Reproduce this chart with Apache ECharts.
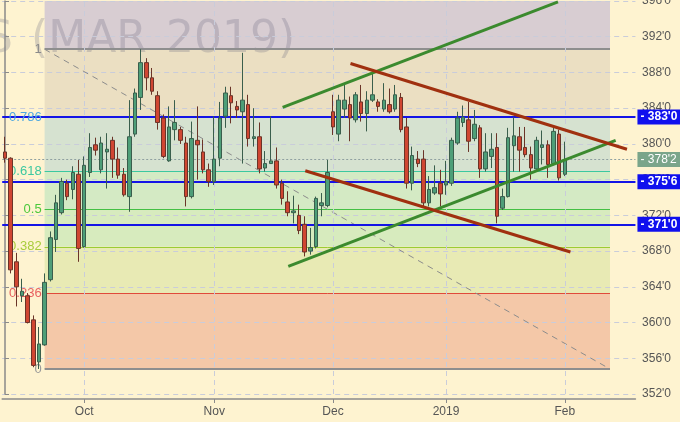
<!DOCTYPE html>
<html><head><meta charset="utf-8">
<script src="https://cdn.jsdelivr.net/npm/echarts@6/dist/echarts.min.js"></script>
<style>html,body{margin:0;padding:0;background:#FEF3D0}#c{width:680px;height:422px}</style>
</head><body><div id="c"></div><script>
// trading days (category axis)
const sepDays=[11,12,13,14,17,18,19,20,21,24,25,26,27,28];
const octDays=[1,2,3,4,5,8,9,10,11,12,15,16,17,18,19,22,23,24,25,26,29,30,31];
const novDays=[1,2,5,6,7,8,9,12,13,14,15,16,19,20,21,23,26,27,28,29,30];
const decDays=[3,4,5,6,7,10,11,12,13,14,17,18,19,20,21,24,26,27,28,31];
const janDays=[2,3,4,7,8,9,10,11,14,15,16,17,18,22,23,24,25,28,29,30,31];
const febDays=[1,4,5,6,7,8,11,12,13,14,15,19,20];
const monthTickDates=['2018-10-01','2018-11-01','2018-12-03','2019-01-02','2019-02-01'];
const monthTickLabels=['Oct','Nov','Dec','2019','Feb'];

// OHLC
const opens=[379.1,378.4,366.8,363.0,363.0,360.3,355.6,357.5,364.8,369.3,372.3,375.6,374.9,376.6,368.5,376.8,379.9,377.1,379.1,380.4,
378.3,376.6,374.1,381.1,385.2,389.1,387.4,385.4,382.9,378.1,381.6,381.6,380.1,374.1,380.4,379.1,377.1,375.8,378.4,383.1,
385.4,384.2,383.6,384.4,380.6,380.8,377.3,377.8,378.1,375.6,373.5,372.3,372.0,371.0,368.0,368.5,373.1,373.1,383.6,381.1,
383.9,384.4,382.7,384.7,383.4,384.9,384.7,383.9,384.4,383.9,385.2,381.9,375.6,378.3,378.3,373.4,374.5,375.6,375.4,375.6,
380.1,382.4,382.7,380.6,381.8,377.2,378.6,379.6,372.8,374.1,379.8,380.8,379.6,378.8,377.2,379.6,379.9,377.8,381.1,376.6];
const closes=[378.4,365.9,364.0,363.5,360.0,355.2,357.6,364.5,369.5,373.4,375.8,374.1,376.8,368.3,377.6,379.6,379.3,380.1,379.4,378.3,
376.5,374.3,380.8,385.7,389.1,387.4,385.9,382.4,378.6,381.9,382.4,380.4,374.1,380.6,379.9,377.1,375.8,378.3,382.9,385.7,
384.6,383.8,384.9,380.6,380.8,377.2,377.8,378.1,375.4,373.9,372.3,372.5,370.3,367.9,368.4,373.9,373.4,376.8,381.9,384.9,
384.9,382.9,385.5,383.4,384.9,385.5,384.2,384.9,383.6,385.5,381.6,375.6,378.7,377.8,373.4,374.9,375.1,374.4,375.8,380.4,
382.9,383.0,380.3,382.2,377.2,379.1,379.4,371.9,374.1,380.7,380.9,379.3,378.8,377.3,380.4,379.9,377.7,381.4,376.2,378.25];
const lows=[377.9,365.5,361.8,362.3,359.9,355.0,354.8,357.4,364.6,367.9,372.1,373.7,373.8,366.8,368.4,376.3,378.7,376.7,375.0,376.2,
376.1,374.1,372.4,380.8,383.8,386.0,385.5,381.6,378.4,378.0,380.4,380.0,373.0,373.9,376.0,376.7,375.2,375.4,377.5,381.8,
382.3,382.9,377.8,379.7,379.7,376.7,376.9,377.8,375.0,373.2,371.9,371.1,369.9,367.4,367.6,368.3,371.9,372.9,381.0,380.3,
382.9,380.3,382.4,382.5,381.4,384.7,383.6,383.6,383.4,383.6,381.3,375.0,374.8,377.4,373.0,373.0,374.3,373.0,374.3,375.3,
379.9,381.9,379.1,380.3,376.2,376.9,377.3,371.1,372.6,374.0,376.9,376.9,378.5,376.0,377.1,377.7,376.2,377.6,375.9,376.4];
const highs=[380.8,378.5,367.8,364.9,363.3,360.8,359.5,365.5,370.2,374.3,376.2,376.0,377.5,378.2,378.6,381.2,380.7,380.8,381.2,380.8,
379.6,377.3,384.9,386.2,390.6,389.6,388.5,385.9,383.3,384.2,384.9,381.9,380.8,382.5,384.2,380.5,377.8,383.1,384.7,386.4,
386.4,384.8,390.2,385.5,384.0,382.4,379.2,383.1,379.6,376.0,374.7,374.2,373.2,371.9,370.6,374.1,374.5,378.2,385.5,385.5,
386.6,385.3,385.8,386.6,385.9,387.9,385.0,386.8,386.2,386.6,385.7,382.9,379.7,379.2,379.3,376.4,377.6,377.1,378.1,380.7,
383.6,384.3,384.7,383.8,382.1,381.2,381.2,381.2,375.0,381.8,383.0,381.9,381.9,379.7,380.8,381.5,380.4,381.9,381.6,380.25];

// Fibonacci retracement
const fibHigh=390.6, fibLow=354.8;
const fibStartIdx=7, fibEndIdx=107;
const fibRatios=[1,0.786,0.618,0.5,0.382,0.236,0];
const fibLabels=['1','0.786','0.618','0.5','0.382','0.236','0'];
const fibLineColors=['#8E8E8E','#5AB0E8','#3CC8A0','#44C044','#9CCC33','#E04A3A','#8E8E8E'];
const fibTextColors=['#8A8A8A','#4FA8E0','#3CC8A0','#4CC83C','#A8CC3C','#E86060','#9A9A9A'];
const fibZoneColors=['#D8CDD2','#EBDFC2','#D6E2D0','#D4EAC4','#D7EBBE','#E8EAB4','#F4C8A8'];

// horizontal levels
const blueLevels=[383.0,375.75,371.0];
const lastPrice=378.25;

// trend lines [idx, price]
const greenLines=[[[49.1,384.1],[97.8,395.9]],[[50.1,366.3],[108.0,380.4]]];
const redLines=[[[61.1,389.0],[110.0,379.4]],[[53.1,377.0],[100.0,367.9]]];

// watermark pieces
const watermark=[['S',-15],['(MAR',31],['2019)',166]];

const pad=n=>(n<10?'0':'')+n;
const dates=[].concat(
  sepDays.map(d=>'2018-09-'+pad(d)),octDays.map(d=>'2018-10-'+pad(d)),
  novDays.map(d=>'2018-11-'+pad(d)),decDays.map(d=>'2018-12-'+pad(d)),
  janDays.map(d=>'2019-01-'+pad(d)),febDays.map(d=>'2019-02-'+pad(d)));
const N=dates.length;
const tickIdx=monthTickDates.map(d=>dates.indexOf(d));
const candle=opens.map((o,i)=>[o,closes[i],lows[i],highs[i]]);
const fmt=v=>{const i=Math.floor(v+1e-9);return i+"'"+Math.round((v-i)*8);};
const fibPrice=r=>fibLow+r*(fibHigh-fibLow);

const zoneTops=[396].concat(fibRatios.slice(0,6).map(fibPrice));
const zoneBots=fibRatios.map(fibPrice);
const zones=zoneTops.map((t,i)=>[{coord:[fibStartIdx,t],itemStyle:{color:fibZoneColors[i]}},{coord:[fibEndIdx,zoneBots[i]]}]);

const fibLines=fibRatios.map((r,i)=>[
  {coord:[fibStartIdx,fibPrice(r)],lineStyle:{color:fibLineColors[i],width:(r===1||r===0)?2:1,type:'solid'},
   label:{show:true,position:'start',formatter:fibLabels[i],color:fibTextColors[i],fontSize:13,distance:3,fontFamily:'Liberation Sans, Arial'}},
  {coord:[fibEndIdx,fibPrice(r)]}]);
fibLines.push([{coord:[fibStartIdx,fibHigh],lineStyle:{color:'#8C8C8C',width:1,type:[6,5]},label:{show:false}},{coord:[fibEndIdx,fibLow]}]);

const L=2.2, W=N*5.654, R=680-L-W;
const chart=echarts.init(document.getElementById('c'));
const series=[
 {type:'line',xAxisIndex:1,data:[],z:1,silent:true,markArea:{silent:true,data:zones}},
 {type:'line',xAxisIndex:1,data:[],z:3,silent:true,markLine:{silent:true,symbol:['none','none'],data:fibLines}},
 {type:'line',xAxisIndex:1,data:[],z:3,silent:true,markLine:{silent:true,symbol:['none','none'],label:{show:false},
   lineStyle:{color:'#C9CCDA',width:1,type:[5,4]},data:tickIdx.map(i=>({xAxis:i}))}},
 {type:'line',xAxisIndex:1,data:[],z:4,silent:true,markLine:{silent:true,symbol:['none','none'],
   lineStyle:{color:'#8FA0A0',width:1,type:[2,2]},
   label:{show:true,position:'end',distance:2,formatter:()=>'- '+fmt(lastPrice),color:'#fff',backgroundColor:'#7AA58A',padding:[2,4,1,3],fontSize:12,fontFamily:'Liberation Sans, Arial'},
   data:[{yAxis:lastPrice}]}},
 {type:'candlestick',xAxisIndex:0,data:candle,z:5,barWidth:4,silent:true,
   itemStyle:{color:'#4E9E78',color0:'#D04632',borderColor:'#3A5E4C',borderColor0:'#6A3428',borderWidth:1}},
 ...greenLines.map(l=>({type:'line',xAxisIndex:1,data:l,z:6,silent:true,showSymbol:false,symbol:'none',lineStyle:{color:'#3B8A2E',width:3}})),
 ...redLines.map(l=>({type:'line',xAxisIndex:1,data:l,z:6,silent:true,showSymbol:false,symbol:'none',lineStyle:{color:'#A0300F',width:3}})),
 {type:'line',xAxisIndex:1,data:[],z:7,silent:true,markLine:{silent:true,symbol:['none','none'],
   lineStyle:{color:'#1414E6',width:2,type:'solid'},
   label:{show:true,position:'end',distance:2,formatter:p=>'- '+fmt(p.value),color:'#fff',backgroundColor:'#1010EE',padding:[2,4,1,3],fontSize:12,fontWeight:'bold',fontFamily:'Liberation Sans, Arial'},
   data:blueLevels.map(v=>({yAxis:v}))}}
];
chart.setOption({
 animation:false,
 backgroundColor:'#FEF3D0',
 graphic:watermark.map(([t,x])=>({type:'text',left:x,top:19,z:2,silent:true,
   style:{text:t,font:'44px "DejaVu Sans"',fill:'rgba(100,100,125,0.25)'}})),
 grid:{left:L,right:R,top:1,bottom:28,containLabel:false,outerBoundsMode:'none'},
 xAxis:[
  {type:'category',data:dates,boundaryGap:true,offset:5,z:3,
   axisLine:{lineStyle:{color:'#8A8A8A',width:1.5}},
   axisTick:{show:true,alignWithLabel:true,length:4,interval:(i)=>tickIdx.includes(i),lineStyle:{color:'#8A8A8A'}},
   axisLabel:{interval:(i)=>tickIdx.includes(i),formatter:(v,i)=>monthTickLabels[tickIdx.indexOf(i)]||'',color:'#555',fontSize:12,margin:7,fontFamily:'Liberation Sans, Arial'},
   splitLine:{show:false}},
  {type:'value',min:-0.5,max:N-0.5,show:false,splitLine:{show:false}}
 ],
 yAxis:{type:'value',position:'right',min:352,max:396,interval:4,offset:2.6,z:3,
   axisLine:{show:true,lineStyle:{color:'#8A8A8A',width:1.5}},
   axisTick:{show:true,length:4,lineStyle:{color:'#8A8A8A'}},
   axisLabel:{formatter:fmt,color:'#555',fontSize:12,margin:4,fontFamily:'Liberation Sans, Arial'},
   splitLine:{show:true,lineStyle:{color:'#C9CCDA',width:1,type:[5,4]}}},
 series:series
});
</script></body></html>
